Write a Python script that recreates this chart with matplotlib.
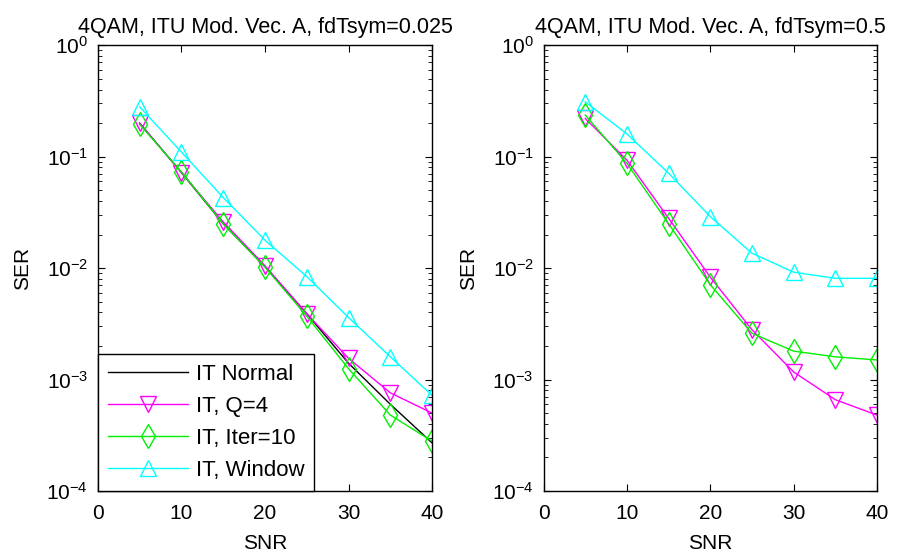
import matplotlib
matplotlib.use("Agg")
import matplotlib.pyplot as plt
from matplotlib.ticker import LogLocator, NullFormatter

plt.rcParams['font.family'] = ['Liberation Sans', 'DejaVu Sans']
plt.rcParams['mathtext.fontset'] = 'custom'
plt.rcParams['mathtext.rm'] = 'Liberation Sans'

snr = [5, 10, 15, 20, 25, 30, 35, 40]

# Left panel: fdTsym = 0.025
L_normal = [0.20, 0.072, 0.025, 0.0103, 0.0039, 0.0014, 0.00060, 0.00027]
L_q4 = [0.20, 0.072, 0.026, 0.0105, 0.0039, 0.00155, 0.00076, 0.00050]
L_iter = [0.195, 0.073, 0.025, 0.0102, 0.0037, 0.00125, 0.00048, 0.00028]
L_window = [0.28, 0.11, 0.043, 0.0178, 0.0084, 0.0036, 0.0016, 0.00072]

# Right panel: fdTsym = 0.5
R_q4 = [0.22, 0.093, 0.028, 0.0083, 0.0028, 0.00117, 0.00066, 0.00048]
R_iter = [0.236, 0.087, 0.025, 0.0071, 0.0026, 0.0018, 0.0016, 0.0015]
R_window = [0.31, 0.16, 0.071, 0.029, 0.0136, 0.0092, 0.0081, 0.0081]

titles = ["4QAM, ITU Mod. Vec. A, fdTsym=0.025", "4QAM, ITU Mod. Vec. A, fdTsym=0.5"]
labels = ["IT Normal", "IT, Q=4", "IT, Iter=10", "IT, Window"]
xticks = [0, 10, 20, 30, 40]

GREEN = '#00f000'

fig = plt.figure(figsize=(9.06, 5.58), dpi=100)
ax1 = fig.add_axes([0.108, 0.120, 0.369, 0.799])
ax2 = fig.add_axes([0.600, 0.120, 0.368, 0.799])

mk = dict(markerfacecolor='none', markersize=12, linewidth=1.0, markeredgewidth=1.0)

def style(ax, title):
    ax.set_yscale('log')
    ax.set_xlim(0, 40)
    ax.set_ylim(1e-4, 1)
    ax.set_xticks(xticks)
    ax.yaxis.set_major_locator(LogLocator(base=10, numticks=10))
    ax.yaxis.set_minor_locator(LogLocator(base=10, subs=range(2, 10), numticks=10))
    ax.yaxis.set_minor_formatter(NullFormatter())
    ax.tick_params(which='both', direction='in', top=True, right=True, labelsize=15)
    ax.tick_params(which='major', length=5)
    ax.tick_params(axis='x', which='major', pad=9)
    ax.tick_params(axis='y', which='major', pad=7)
    ax.tick_params(which='minor', length=3)
    ax.set_title(title, fontsize=15.5, pad=9)
    ax.set_xlabel("SNR", fontsize=15, labelpad=8)
    ax.set_ylabel("SER", fontsize=15, labelpad=10)
    for s in ax.spines.values():
        s.set_linewidth(1.0)

ax1.plot(snr, L_normal, color='black', linewidth=1.0, label=labels[0])
ax1.plot(snr, L_q4, color='magenta', marker='v', label=labels[1], **mk)
ax1.plot(snr, L_iter, color=GREEN, marker='d', label=labels[2], **mk)
ax1.plot(snr, L_window, color='cyan', marker='^', label=labels[3], **mk)
style(ax1, titles[0])
leg = ax1.legend(loc='lower left', fontsize=16, handlelength=3.6, borderaxespad=0,
                 fancybox=False, edgecolor='black', framealpha=1, borderpad=0.45,
                 labelspacing=0.5, handletextpad=0.35)
leg.get_frame().set_linewidth(1.0)

ax2.plot(snr, R_q4, color='magenta', marker='v', **mk)
ax2.plot(snr, R_iter, color=GREEN, marker='d', **mk)
ax2.plot(snr, R_window, color='cyan', marker='^', **mk)
style(ax2, titles[1])

fig.savefig("out.png", dpi=100)
